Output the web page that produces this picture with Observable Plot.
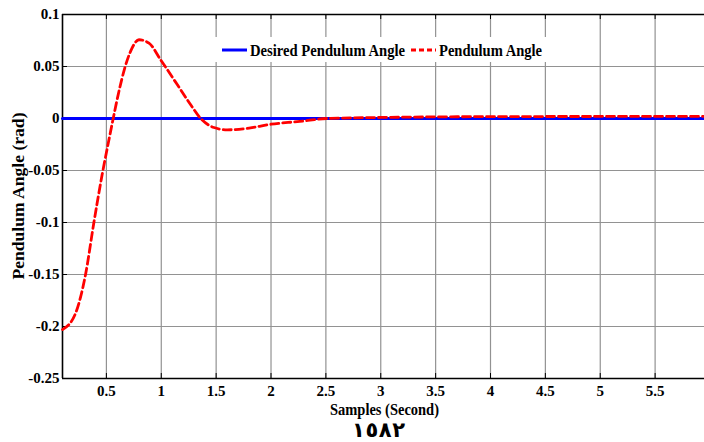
<!DOCTYPE html>
<html>
<head>
<meta charset="utf-8">
<script src="https://cdn.jsdelivr.net/npm/d3@7"></script>
<script src="https://cdn.jsdelivr.net/npm/@observablehq/plot@0.6"></script>
<style>
  html, body { margin: 0; padding: 0; background: #fff; }
  #wrap { position: relative; width: 704px; height: 442px; overflow: hidden; }
  #overlay { position: absolute; left: 0; top: 0; pointer-events: none; }
  #overlay text { font-family: "Liberation Serif", "Times New Roman", serif; font-weight: bold; fill: #000; }
</style>
</head>
<body>
<div id="wrap"></div>
<script>
// ---- data ----
const xDomain = [0.1, 5.95];
const yDomain = [-0.25, 0.1];
const xTicks = [0.5, 1, 1.5, 2, 2.5, 3, 3.5, 4, 4.5, 5, 5.5];
const xTickLabels = ["0.5", "1", "1.5", "2", "2.5", "3", "3.5", "4", "4.5", "5", "5.5"];
const yTicks = [0.1, 0.05, 0, -0.05, -0.1, -0.15, -0.2, -0.25];
const yTickLabels = ["0.1", "0.05", "0", "-0.05", "-0.1", "-0.15", "-0.2", "-0.25"];

const desiredTime = [0.1, 5.95];
const desiredAngle = [0, 0];

const pendulumTime = [0.10, 0.22, 0.31, 0.386, 0.463, 0.509, 0.562, 0.614, 0.666, 0.72, 0.797, 0.888, 0.994, 1.147, 1.268, 1.359, 1.48, 1.60, 1.80, 2.00, 2.24, 2.51, 3.00, 3.60, 4.50, 5.95];
const pendulumAngle = [-0.203, -0.187, -0.150, -0.100, -0.053, -0.028, 0.000, 0.026, 0.048, 0.0645, 0.0757, 0.0725, 0.0565, 0.0324, 0.0132, 0.000, -0.0087, -0.0109, -0.0093, -0.0055, -0.003, 0.000, 0.0010, 0.0016, 0.0019, 0.0020];

const seriesNames = ["Desired Pendulum Angle", "Pendulum Angle"];
const xTitle = "Samples (Second)";
const yTitle = "Pendulum Angle (rad)";
const caption = "١٥٨٢";

// ---- build tables ----
const desired = desiredTime.map((t, i) => ({t, a: desiredAngle[i]}));
const pendulum = pendulumTime.map((t, i) => ({t, a: pendulumAngle[i]}));

const W = 704, H = 442, mL = 62, mR = 0, mT = 14, mB = 64;
const plotH = H - mT - mB, plotW = W - mL - mR;
const gridColor = "#929292";

const chart = Plot.plot({
  width: W, height: H,
  marginLeft: mL, marginRight: mR, marginTop: mT, marginBottom: mB,
  style: {fontFamily: "'Liberation Serif', 'Times New Roman', serif", fontSize: "15px", fontWeight: "bold", background: "#fff", color: "#000", overflow: "hidden"},
  x: {domain: xDomain},
  y: {domain: yDomain},
  marks: [
    Plot.gridX(xTicks, {stroke: gridColor, strokeOpacity: 1, strokeWidth: 1.2}),
    Plot.gridY(yTicks, {stroke: gridColor, strokeOpacity: 1, strokeWidth: 1.2}),
    Plot.axisX(xTicks, {tickSize: 0, tickPadding: 7, label: null, tickFormat: d => xTickLabels[xTicks.indexOf(d)]}),
    Plot.axisY(yTicks, {tickSize: 0, tickPadding: 3, label: null, tickFormat: d => yTickLabels[yTicks.indexOf(d)]}),
    // inward tick marks
    Plot.tickX(xTicks, {x: d => d, insetTop: plotH - 5, stroke: "#000", strokeWidth: 1}),
    Plot.tickX(xTicks, {x: d => d, insetBottom: plotH - 5, stroke: "#000", strokeWidth: 1}),
    Plot.tickY(yTicks, {y: d => d, insetRight: plotW - 5, stroke: "#000", strokeWidth: 1}),
    // frame (left, top, bottom)
    Plot.ruleX([xDomain[0]], {stroke: "#000", strokeWidth: 1.6}),
    Plot.ruleY([yDomain[0], yDomain[1]], {stroke: "#000", strokeWidth: 1.6}),
    // series
    Plot.line(desired, {x: "t", y: "a", stroke: "#0000ff", strokeWidth: 3}),
    Plot.line(pendulum, {x: "t", y: "a", stroke: "#ff0000", strokeWidth: 2.8, strokeDasharray: "8,4", curve: "monotone-x"})
  ]
});

const wrap = document.getElementById("wrap");
wrap.appendChild(chart);

// ---- overlay: legend, axis titles, caption ----
const ns = "http://www.w3.org/2000/svg";
const ov = document.createElementNS(ns, "svg");
ov.setAttribute("id", "overlay");
ov.setAttribute("width", W);
ov.setAttribute("height", H);
wrap.appendChild(ov);

function el(tag, attrs, text) {
  const e = document.createElementNS(ns, tag);
  for (const k in attrs) e.setAttribute(k, attrs[k]);
  if (text != null) e.textContent = text;
  ov.appendChild(e);
  return e;
}

// legend box
el("rect", {x: 213, y: 37, width: 336, height: 25, fill: "#fff"});
el("line", {x1: 222, x2: 247, y1: 50, y2: 50, stroke: "#0000ff", "stroke-width": 3});
el("text", {x: 250, y: 56, "font-size": 17, textLength: 155, lengthAdjust: "spacingAndGlyphs"}, seriesNames[0]);
el("line", {x1: 411, x2: 436, y1: 50, y2: 50, stroke: "#ff0000", "stroke-width": 3, "stroke-dasharray": "5,3"});
el("text", {x: 439, y: 56, "font-size": 17, textLength: 103, lengthAdjust: "spacingAndGlyphs"}, seriesNames[1]);

// x title
el("text", {x: 330, y: 415, "font-size": 17, textLength: 109, lengthAdjust: "spacingAndGlyphs"}, xTitle);
// y title
el("text", {x: 0, y: 0, "font-size": 16.5, "text-anchor": "middle", textLength: 167, lengthAdjust: "spacingAndGlyphs",
  transform: "translate(24,196) rotate(-90)"}, yTitle);
// caption
const cap = el("text", {x: 352, y: 437, "font-size": 21, textLength: 53, lengthAdjust: "spacing", direction: "ltr"}, caption);
cap.style.fontFamily = "'DejaVu Sans', sans-serif";
</script>
</body>
</html>
